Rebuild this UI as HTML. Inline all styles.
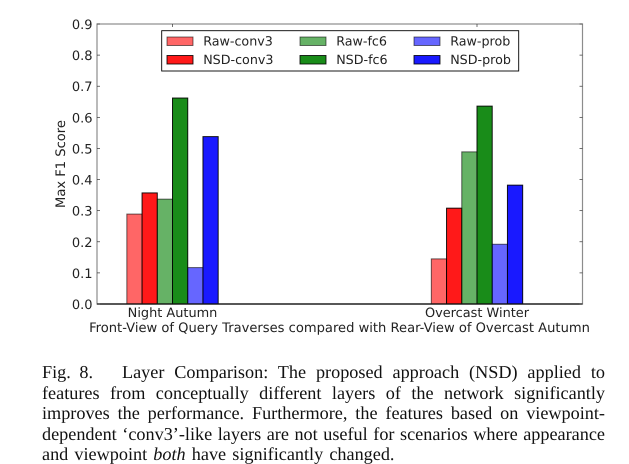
<!DOCTYPE html>
<html>
<head>
<meta charset="utf-8">
<style>
html,body{margin:0;padding:0;background:#fff;}
body{width:629px;height:464px;position:relative;overflow:hidden;}
svg{position:absolute;left:0;top:0;}
svg text{font-family:"DejaVu Sans",sans-serif;fill:#222;text-rendering:geometricPrecision;}
.ln{position:absolute;left:42px;width:563px;font-family:"Liberation Serif",serif;font-size:18.2px;line-height:20px;height:20px;color:#111;white-space:nowrap;text-align:justify;text-align-last:justify;text-rendering:geometricPrecision;}
.ln.last{text-align:left;text-align-last:left;word-spacing:1.6px;}
.ln.fig{width:auto;text-align:left;text-align-last:left;word-spacing:4px;}
.ln.first{left:122px;width:483px;}
</style>
</head>
<body>
<svg id="chart" width="629" height="464" viewBox="0 0 629 464"></svg>
<div>
<div class="ln fig" style="top:362px">Fig. 8.</div>
<div class="ln first" style="top:362px">Layer Comparison: The proposed approach (NSD) applied to</div>
<div class="ln" style="top:383px">features from conceptually different layers of the network significantly</div>
<div class="ln" style="top:403px">improves the performance. Furthermore, the features based on viewpoint-</div>
<div class="ln" style="top:424px">dependent ‘conv3’-like layers are not useful for scenarios where appearance</div>
<div class="ln last" style="top:444px">and viewpoint <i>both</i> have significantly changed.</div>
</div>
<script>
const categories = ["Night Autumn", "Overcast Winter"];
const seriesNames = ["Raw-conv3", "NSD-conv3", "Raw-fc6", "NSD-fc6", "Raw-prob", "NSD-prob"];
const rawConv3 = [0.289, 0.145];
const nsdConv3 = [0.357, 0.308];
const rawFc6 = [0.337, 0.489];
const nsdFc6 = [0.662, 0.636];
const rawProb = [0.117, 0.192];
const nsdProb = [0.538, 0.382];
const yTicks = ["0.0", "0.1", "0.2", "0.3", "0.4", "0.5", "0.6", "0.7", "0.8", "0.9"];
const yAxisTitle = "Max F1 Score";
const xAxisTitle = "Front-View of Query Traverses compared with Rear-View of Overcast Autumn";

const NS = "http://www.w3.org/2000/svg";
const svg = document.getElementById("chart");
const series = [rawConv3, nsdConv3, rawFc6, nsdFc6, rawProb, nsdProb];
const colors = ["#ff0000", "#ff0000", "#007f00", "#007f00", "#0000ff", "#0000ff"];
const alphas = [0.6, 0.9, 0.6, 0.9, 0.6, 0.9];
const plot = {l: 97, r: 582.5, t: 24, b: 304};
const barWidth = 0.05;
const xMin = -0.248, xMax = 1.3465, yMax = 0.9;
function xScale(v) { return plot.l + (v - xMin) / (xMax - xMin) * (plot.r - plot.l); }
function yScale(v) { return plot.b - v / yMax * (plot.b - plot.t); }
function make(tag, attrs, text) {
  const el = document.createElementNS(NS, tag);
  for (const k in attrs) el.setAttribute(k, attrs[k]);
  if (text !== undefined) el.textContent = text;
  svg.appendChild(el);
  return el;
}

// bars
series.forEach(function (vals, s) {
  vals.forEach(function (v, c) {
    const x0 = xScale(c + (s - 3) * barWidth);
    const x1 = xScale(c + (s - 2) * barWidth);
    const bar = make("rect", {x: x0, y: yScale(v), width: x1 - x0, height: plot.b - yScale(v),
      fill: colors[s], "fill-opacity": alphas[s], stroke: "#000", "stroke-opacity": alphas[s], "stroke-width": 1});
    
    
  });
});

// axes frame
const frame = make("rect", {x: plot.l, y: plot.t, width: plot.r - plot.l, height: plot.b - plot.t,
  fill: "none", stroke: "#8c8c8c", "stroke-width": 1.2});


const baseLine = make("line", {x1: plot.l, x2: plot.r, y1: plot.b, y2: plot.b, stroke: "#000", "stroke-width": 1.2});



// y ticks
yTicks.forEach(function (t) {
  const y = yScale(parseFloat(t));
  const a = make("line", {x1: plot.l, x2: plot.l + 3, y1: y, y2: y, stroke: "#333", "stroke-width": 0.7});
  
  
  const b = make("line", {x1: plot.r, x2: plot.r - 3, y1: y, y2: y, stroke: "#333", "stroke-width": 0.7});
  
  
  const lab = make("text", {x: 92.5, y: y + 5, "text-anchor": "end", "font-size": 13}, t);
  
  
});

// x ticks
categories.forEach(function (name, c) {
  const x = xScale(c);
  const a = make("line", {x1: x, x2: x, y1: plot.t, y2: plot.t + 3, stroke: "#333", "stroke-width": 0.7});
  
  
  const lab = make("text", {x: x, y: 317, "text-anchor": "middle", "font-size": 12.9}, name);
  
  
});

// axis titles
const yt = make("text", {x: 0, y: 0, "text-anchor": "middle", "font-size": 13.1,
  transform: "translate(65 164) rotate(-90)"}, yAxisTitle);


const xt = make("text", {x: 339.5, y: 332, "text-anchor": "middle", "font-size": 13.1}, xAxisTitle);



// legend
const box = make("rect", {x: 161.7, y: 30.7, width: 357, height: 40.3, fill: "#fff", stroke: "#000", "stroke-width": 0.9});


const colX = [167, 300, 414];
const rowY = [37, 55.5];
seriesNames.forEach(function (name, s) {
  const col = Math.floor(s / 2), row = s % 2;
  const sw = make("rect", {x: colX[col], y: rowY[row], width: 26, height: 8.5,
    fill: colors[s], "fill-opacity": alphas[s], stroke: "#000", "stroke-opacity": alphas[s], "stroke-width": 0.9});
  
  
  const tx = make("text", {x: colX[col] + 36.2, y: rowY[row] + 8.5, "font-size": 12.7}, name);
  
  
});
</script>
</body>
</html>
